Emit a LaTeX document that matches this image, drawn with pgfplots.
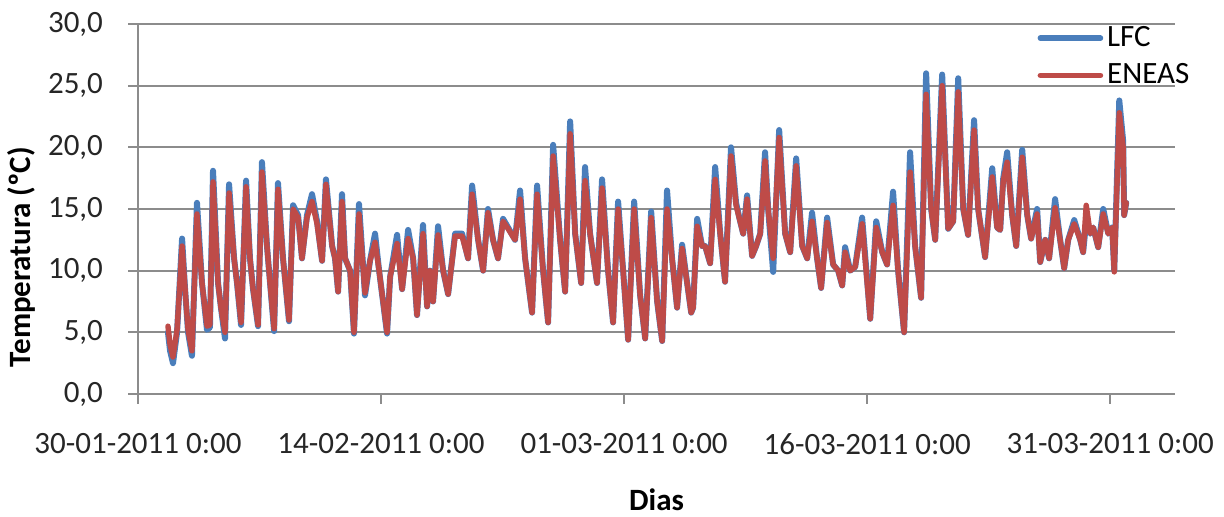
\documentclass[border=0pt]{standalone}
\usepackage{pgfplots}
\pgfplotsset{compat=1.18}
\usepackage{pgfplotstable}
\usepackage{fontspec}
\setmainfont{Carlito}

\definecolor{lfcblue}{RGB}{74,126,187}
\definecolor{eneasred}{RGB}{190,75,72}
\definecolor{gridgray}{RGB}{140,140,140}

% t = days since 30-01-2011 0:00, temperatures in degrees C
\pgfplotstableread{
t     lfc   eneas
1.85  5.0   5.5
1.98  3.5   4.0
2.16  2.5   3.0
2.41  5.0   5.2
2.72  12.6  12.0
2.90  8.6   8.6
3.09  5.0   5.2
3.33  3.1   3.5
3.64  15.5  14.6
3.95  9.0   9.0
4.26  5.2   5.5
4.44  5.4   5.6
4.63  18.1  17.2
4.94  9.0   9.0
5.12  7.0   7.0
5.37  4.5   5.0
5.62  17.0  16.3
5.93  11.0  11.0
6.11  9.0   9.0
6.36  5.6   5.8
6.67  17.3  16.8
6.91  11.0  11.0
7.10  8.5   8.5
7.41  5.5   5.6
7.65  18.8  18.0
7.96  12.0  12.0
8.15  9.0   9.0
8.40  5.1   5.3
8.64  17.1  16.6
8.95  11.0  11.0
9.32  5.9   6.0
9.57  15.3  15.0
9.88  14.5  14.3
10.12 11.0  11.0
10.43 14.5  14.3
10.74 16.2  15.6
11.05 14.0  13.8
11.36 10.8  10.8
11.60 17.4  17.0
11.98 12.0  12.0
12.16 11.0  11.0
12.35 8.3   8.3
12.59 16.2  15.6
12.78 11.0  11.0
13.09 10.0  10.0
13.33 4.9   5.0
13.64 15.4  14.6
14.01 8.0   8.2
14.32 10.8  10.8
14.63 13.0  12.3
14.88 10.0  10.0
15.37 4.9   5.0
15.56 9.5   9.5
15.99 12.9  12.2
16.30 8.5   8.5
16.67 13.3  12.6
16.98 11.0  11.0
17.22 6.4   6.4
17.59 13.7  13.0
17.84 7.1   7.1
18.02 10.0  10.0
18.21 7.5   7.5
18.52 13.6  12.9
18.83 10.0  10.0
19.14 8.1   8.1
19.57 13.0  12.8
20.00 13.0  12.8
20.37 11.0  11.0
20.62 16.9  16.2
20.99 12.5  12.5
21.30 10.0  10.0
21.60 15.0  14.7
21.91 12.5  12.5
22.22 11.0  11.0
22.53 14.2  14.0
22.84 13.5  13.4
23.27 12.5  12.5
23.58 16.5  15.8
23.89 11.0  11.0
24.32 6.6   6.6
24.63 16.9  16.2
25.00 10.0  10.0
25.31 5.8   5.8
25.62 20.2  19.3
26.05 12.5  12.5
26.36 8.3   8.3
26.67 22.1  21.1
26.98 13.0  13.0
27.35 9.0   9.0
27.59 18.4  17.3
27.90 13.0  13.0
28.33 9.0   9.0
28.64 17.4  16.7
29.01 10.0  10.0
29.32 5.8   5.8
29.63 15.6  15.0
29.94 10.0  10.0
30.25 4.4   4.4
30.62 15.6  15.0
30.99 8.0   8.0
31.30 4.5   4.5
31.67 14.8  14.3
32.04 7.5   7.5
32.35 4.3   4.3
32.65 16.5  15.0
32.96 11.0  11.0
33.27 7.0   7.0
33.58 12.1  11.8
33.89 9.0   9.0
34.14 6.6   6.6
34.26 7.0   7.0
34.51 14.2  13.6
34.81 12.0  12.0
35.00 12.0  12.0
35.31 10.6  10.6
35.62 18.4  17.4
35.93 13.0  13.0
36.23 9.1   9.1
36.60 20.0  19.3
36.91 15.5  15.3
37.16 14.0  14.0
37.35 13.0  13.0
37.59 16.1  15.8
37.90 11.2  11.2
38.15 12.0  12.0
38.40 13.0  13.0
38.70 19.6  18.9
38.89 15.0  15.0
39.20 9.9   11.0
39.57 21.4  20.8
39.94 13.0  13.0
40.25 11.5  11.5
40.62 19.1  18.5
40.99 12.0  12.0
41.30 11.0  11.0
41.60 14.7  14.0
41.91 11.0  11.0
42.16 8.6   8.6
42.53 14.3  13.9
42.90 10.5  10.5
43.21 10.0  10.0
43.46 8.8   8.8
43.64 11.9  11.5
43.95 10.0  10.0
44.26 10.3  10.3
44.69 14.3  13.8
45.19 6.1   6.1
45.56 14.0  13.5
45.93 11.5  11.5
46.23 10.5  10.5
46.60 16.4  15.3
46.91 10.0  10.0
47.28 5.0   5.0
47.65 19.6  18.0
47.96 12.0  12.0
48.33 7.8   7.8
48.64 26.0  24.3
48.95 15.0  15.0
49.20 12.5  12.5
49.63 25.9  25.0
50.00 13.4  13.4
50.31 14.0  14.0
50.62 25.6  24.5
50.93 15.0  15.0
51.23 12.9  12.9
51.60 22.2  21.4
51.85 15.0  15.0
52.28 11.1  11.1
52.72 18.3  17.6
53.02 13.5  13.5
53.21 13.3  13.3
53.40 17.5  17.3
53.64 19.6  18.8
53.95 14.5  14.5
54.20 12.0  12.0
54.57 19.8  19.2
54.88 14.5  14.5
55.12 12.6  12.6
55.49 15.0  14.6
55.68 10.7  10.7
55.99 12.5  12.5
56.23 11.0  11.0
56.60 15.8  15.1
56.91 12.5  12.5
57.16 10.2  10.2
57.41 12.5  12.5
57.78 14.1  13.8
58.15 12.5  12.5
58.33 11.5  11.5
58.52 14.0  15.3
58.77 13.0  13.0
58.95 13.5  13.5
59.26 11.9  11.9
59.57 15.0  14.6
59.88 13.0  13.0
60.12 13.5  13.5
60.25 10.0  9.9
60.56 23.8  22.8
60.80 20.5  20.0
60.86 14.5  14.5
60.99 15.5  15.5
}\temps

\begin{document}
\begin{tikzpicture}
\path[use as bounding box] (0,0) rectangle (612pt,258.5pt);
\begin{axis}[
  at={(69pt,61.5pt)}, anchor=south west,
  scale only axis,
  width=518.5pt, height=185pt,
  xmin=0, xmax=64,
  ymin=0, ymax=30,
  xtick={0,15,30,45,60},
  xticklabels={30-01-2011 0:00,14-02-2011 0:00,01-03-2011 0:00,16-03-2011 0:00,31-03-2011 0:00},
  ytick={0,5,...,30},
  axis x line*=bottom,
  axis y line*=left,
  axis line style={gridgray, line width=0.9pt, -},
  ymajorgrids,
  major grid style={gridgray, line width=0.9pt},
  tick style={gridgray, line width=0.9pt},
  tick align=outside,
  major tick length=5pt,
  /pgf/number format/assume math mode=true,
  yticklabel style={/pgf/number format/use comma, /pgf/number format/fixed,
    /pgf/number format/fixed zerofill, /pgf/number format/precision=1, xshift=-9pt},
  every tick label/.append style={font=\fontsize{15.5}{18}\selectfont, text=black!85},
  xticklabel style={anchor=center, yshift=-20pt},
  xlabel={\textbf{Dias}},
  ylabel={\textbf{Temperatura (ºC)}},
  label style={font=\fontsize{15.5}{18}\selectfont},
  xlabel style={anchor=center, at={(axis description cs:0.5,-0.285)}},
  ylabel style={anchor=center, at={(axis description cs:-0.112,0.37)}},
  legend style={draw=none, fill=none, at={(rel axis cs:1.02,1.01)}, anchor=north east,
    font=\fontsize{15.5}{18}\selectfont, row sep=3pt, inner sep=1pt},
  legend cell align=left,
  legend image code/.code={\draw[#1, line width=2.8pt] (0pt,0pt) -- (30pt,0pt);},
]
\addplot[lfcblue, line width=3pt, line join=round, line cap=round] table[x=t, y=lfc] {\temps};
\addlegendentry{LFC}
\addplot[eneasred, line width=2.7pt, line join=round, line cap=round] table[x=t, y=eneas] {\temps};
\addlegendentry{ENEAS}
\end{axis}
\end{tikzpicture}
\end{document}
